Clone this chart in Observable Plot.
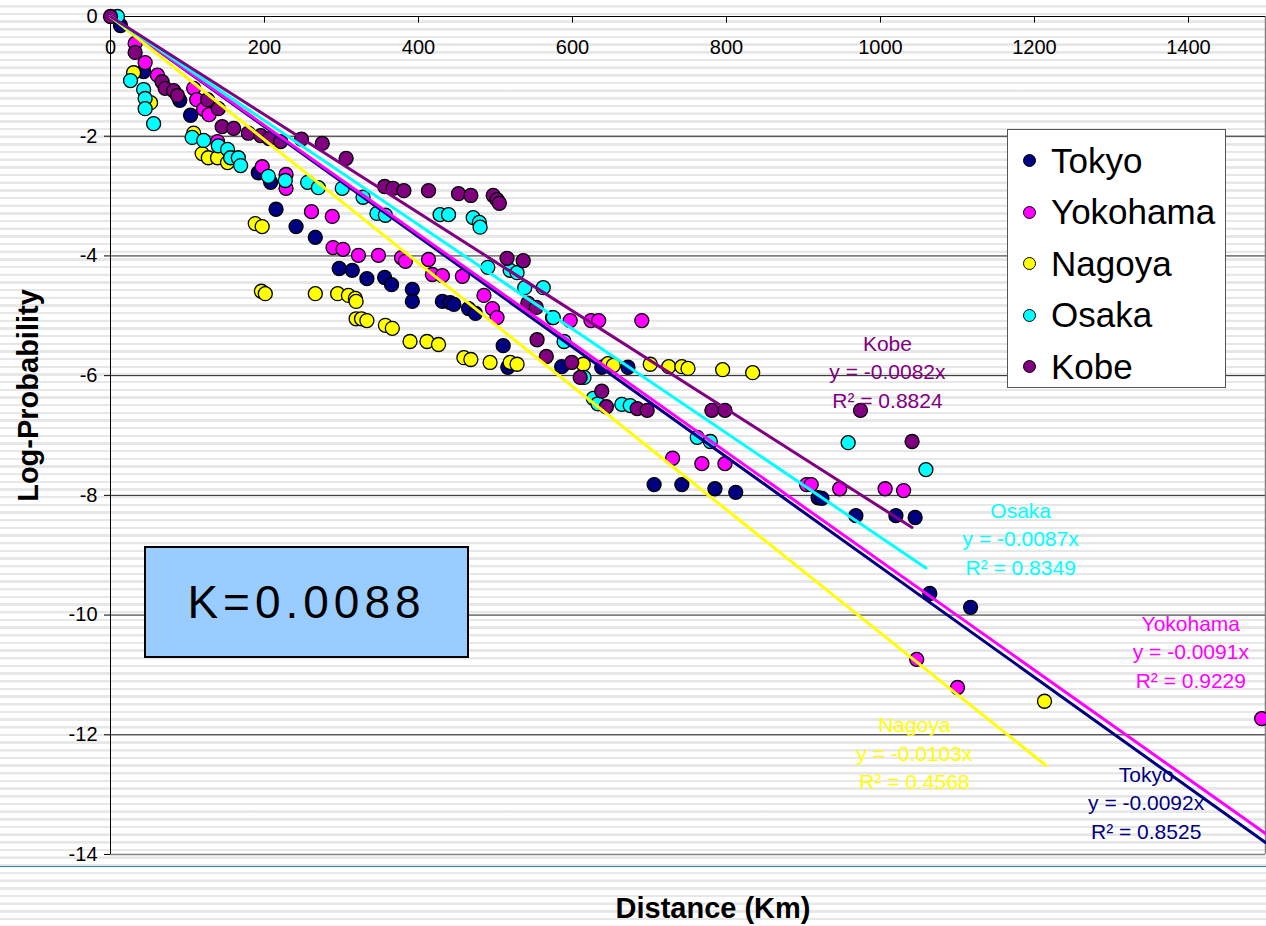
<!DOCTYPE html>
<html>
<head>
<meta charset="utf-8">
<script src="https://cdn.jsdelivr.net/npm/d3@7"></script>
<script src="https://cdn.jsdelivr.net/npm/@observablehq/plot@0.6"></script>
<style>
  html, body { margin: 0; padding: 0; width: 1266px; height: 926px; overflow: hidden; }
  body {
    position: relative;
    font-family: "Liberation Sans", Arial, sans-serif;
    background: repeating-linear-gradient(to bottom, #ffffff 0px, #ffffff 5px, #e7e7e7 5.2px, #e7e7e7 7.4px, #ffffff 7.67px);
  }
  #chart { position: absolute; left: 0; top: 0; }
  #blueline { position: absolute; left: 0; top: 866px; width: 1266px; height: 1px; background: #2f7db9; }
  #legend {
    position: absolute; left: 1007px; top: 129px; width: 219px; height: 259px;
    box-sizing: border-box; background: #fff; border: 1px solid #555; padding-top: 5px;
  }
  .lrow { height: 51.5px; display: flex; align-items: center; font-size: 35px; color: #000; }
  .ldot { width: 13px; height: 13px; border-radius: 50%; border: 1px solid #000; margin-left: 15px; margin-right: 15px; box-sizing: border-box; flex: none; }
  #kbox {
    position: absolute; left: 144px; top: 546px; width: 325px; height: 112px;
    box-sizing: border-box; background: #99CCFF; border: 2px solid #000;
    display: flex; align-items: center; justify-content: center;
    font-size: 46px; letter-spacing: 5px; color: #000;
  }
</style>
</head>
<body>
<div id="blueline"></div>
<div id="chart"></div>
<div id="legend"></div>
<div id="kbox">K=0.0088</div>
<script>
// ---- data ----
const cities = ["Tokyo", "Yokohama", "Nagoya", "Osaka", "Kobe"];
const cityColors = ["#000080", "#FF00FF", "#FFFF00", "#00FFFF", "#800080"];
const slopes = [-0.0092, -0.0091, -0.0103, -0.0087, -0.0082];
const rSquared = ["0.8525", "0.9229", "0.4568", "0.8349", "0.8824"];
const trendMaxX = [1500, 1500, 1215, 1059, 1041];
const xTicks = [0, 200, 400, 600, 800, 1000, 1200, 1400];
const yTicks = [0, -2, -4, -6, -8, -10, -12, -14];

const tokyo = [
  [13,-0.15],[43,-0.92],[90,-1.40],[104,-1.65],[192,-2.61],[208,-2.77],[215,-3.22],[241,-3.51],
  [266,-3.69],[297,-4.21],[314,-4.24],[333,-4.38],[356,-4.36],[365,-4.48],[392,-4.56],[392,-4.76],
  [431,-4.76],[441,-4.78],[446,-4.81],[465,-4.88],[474,-4.96],[510,-5.50],[516,-5.86],[586,-5.85],
  [638,-5.86],[672,-5.86],[706,-7.82],[742,-7.82],[785,-7.89],[812,-7.95],[919,-8.04],[924,-8.05],
  [968,-8.34],[1020,-8.34],[1045,-8.37],[1064,-9.64],[1117,-9.87]
];
const yokohama = [
  [32,-0.45],[45,-0.77],[61,-0.98],[108,-1.20],[112,-1.39],[121,-1.55],[128,-1.64],[139,-2.09],
  [197,-2.51],[228,-2.64],[228,-2.87],[261,-3.26],[288,-3.34],[289,-3.86],[302,-3.89],[322,-3.99],
  [348,-3.99],[378,-4.03],[383,-4.09],[413,-4.06],[418,-4.31],[431,-4.33],[457,-4.34],[485,-4.66],
  [496,-4.88],[502,-5.03],[574,-5.03],[597,-5.08],[624,-5.08],[634,-5.08],[690,-5.08],[730,-7.38],
  [768,-7.47],[798,-7.47],[904,-7.82],[910,-7.82],[947,-7.89],[1006,-7.89],[1030,-7.92],
  [1047,-10.74],[1100,-11.21],[1495,-11.73]
];
const nagoya = [
  [30,-0.94],[52,-1.44],[108,-1.95],[119,-2.29],[127,-2.36],[139,-2.36],[152,-2.44],[188,-3.46],
  [197,-3.51],[196,-4.59],[201,-4.63],[266,-4.63],[295,-4.63],[309,-4.66],[318,-4.71],[319,-4.76],
  [319,-5.05],[326,-5.05],[333,-5.08],[357,-5.16],[366,-5.21],[389,-5.43],[411,-5.43],[426,-5.48],
  [459,-5.70],[468,-5.73],[493,-5.78],[519,-5.78],[528,-5.81],[614,-5.81],[646,-5.80],[653,-5.83],
  [701,-5.81],[725,-5.85],[742,-5.85],[750,-5.88],[795,-5.90],[834,-5.95],[1213,-11.44]
];
const osaka = [
  [9,0],[26,-1.07],[43,-1.22],[45,-1.37],[45,-1.54],[56,-1.79],[106,-2.02],[121,-2.07],[140,-2.16],
  [152,-2.22],[156,-2.36],[166,-2.36],[169,-2.49],[205,-2.67],[227,-2.74],[256,-2.77],[270,-2.86],
  [301,-2.87],[328,-3.02],[346,-3.29],[357,-3.32],[428,-3.31],[439,-3.31],[471,-3.36],[479,-3.44],
  [480,-3.52],[490,-4.19],[519,-4.24],[528,-4.28],[538,-4.53],[562,-4.53],[575,-5.03],[589,-5.43],
  [615,-6.03],[627,-6.38],[633,-6.47],[664,-6.48],[675,-6.50],[762,-7.03],[779,-7.10],[958,-7.12],
  [1059,-7.57]
];
const kobe = [
  [0,0],[32,-0.60],[67,-1.09],[71,-1.20],[82,-1.24],[87,-1.32],[126,-1.39],[140,-1.54],[145,-1.84],
  [160,-1.87],[179,-1.95],[195,-1.99],[206,-2.04],[221,-2.09],[248,-2.05],[275,-2.12],[306,-2.37],
  [356,-2.84],[367,-2.87],[381,-2.91],[413,-2.91],[452,-2.96],[468,-2.99],[497,-2.99],[502,-3.06],
  [505,-3.12],[515,-4.04],[536,-4.08],[542,-4.79],[553,-4.86],[554,-5.40],[566,-5.68],[599,-5.78],
  [610,-6.03],[638,-6.26],[644,-6.52],[684,-6.55],[697,-6.58],[781,-6.58],[798,-6.58],[974,-6.58],
  [1041,-7.10]
];

// ---- build tables ----
const seriesPts = [tokyo, yokohama, nagoya, osaka, kobe];
const points = seriesPts.flatMap((pts, i) => pts.map(([x, y]) => ({x, y, city: cities[i]})));
const trend = cities.flatMap((c, i) => [
  {city: c, x: 0, y: 0},
  {city: c, x: trendMaxX[i], y: slopes[i] * trendMaxX[i]}
]);
// placement of the Excel trend-line labels (in data units)
const labelPlace = {Tokyo: [1345, -13.11], Yokohama: [1403, -10.59], Nagoya: [1044, -12.28], Osaka: [1182, -8.70], Kobe: [1009, -5.91]};
const eqLabels = cities.map((c, i) => ({
  city: c, x: labelPlace[c][0], y: labelPlace[c][1],
  text: `${c}\ny = ${slopes[i]}x\nR² = ${rSquared[i]}`
}));
const color = {domain: cities, range: cityColors};
const FONT = '"Liberation Sans", Arial, sans-serif';

const chart = Plot.plot({
  width: 1266,
  height: 926,
  marginTop: 16,
  marginLeft: 110,
  marginRight: 1,
  marginBottom: 72,
  style: {background: "transparent", fontFamily: FONT, overflow: "visible"},
  x: {domain: [0, 1500], axis: null},
  y: {domain: [-14, 0]},
  color,
  marks: [
    Plot.ruleY(yTicks.filter(d => d < 0 && d > -14), {stroke: "#222", strokeWidth: 1}),
    Plot.ruleY([-14], {stroke: "#808080", strokeWidth: 1.5}),
    Plot.ruleX([1500], {stroke: "#808080", strokeWidth: 1.5}),
    Plot.ruleX([0], {stroke: "#000", strokeWidth: 1}),
    Plot.ruleY([0], {stroke: "#000", strokeWidth: 1}),
    Plot.ruleX(xTicks, {x: d => d, y1: 0, y2: -0.11, stroke: "#000"}),
    Plot.text(xTicks, {x: d => d, y: 0, dy: 31, text: d => String(d), fontSize: 20, fill: "#000"}),
    Plot.axisY(yTicks, {tickSize: 6, tickPadding: 7, fontSize: 20, tickFormat: d => String(d), label: null, color: "#000"}),
    Plot.dot(points, {x: "x", y: "y", r: 7, fill: "city", stroke: "#000", strokeWidth: 1.3}),
    Plot.line(trend, {x: "x", y: "y", z: "city", stroke: "city", strokeWidth: 3}),
    Plot.text(eqLabels, {x: "x", y: "y", text: "text", fill: "city", fontSize: 21, lineHeight: 1.35, textAnchor: "middle"}),
    Plot.text(["Log-Probability"], {frameAnchor: "left", textAnchor: "middle", text: d => d, rotate: -90, dx: -82, dy: -40, fontSize: 29, fontWeight: "bold", fill: "#000"}),
    Plot.text(["Distance (Km)"], {frameAnchor: "bottom", textAnchor: "middle", text: d => d, dx: 25, dy: 63, fontSize: 29, fontWeight: "bold", fill: "#000"})
  ]
});
document.getElementById("chart").appendChild(chart);

// legend
const legend = document.getElementById("legend");
cities.forEach((c, i) => {
  const row = document.createElement("div");
  row.className = "lrow";
  const dot = document.createElement("span");
  dot.className = "ldot";
  dot.style.background = cityColors[i];
  const label = document.createElement("span");
  label.textContent = c;
  row.appendChild(dot);
  row.appendChild(label);
  legend.appendChild(row);
});
</script>
</body>
</html>
